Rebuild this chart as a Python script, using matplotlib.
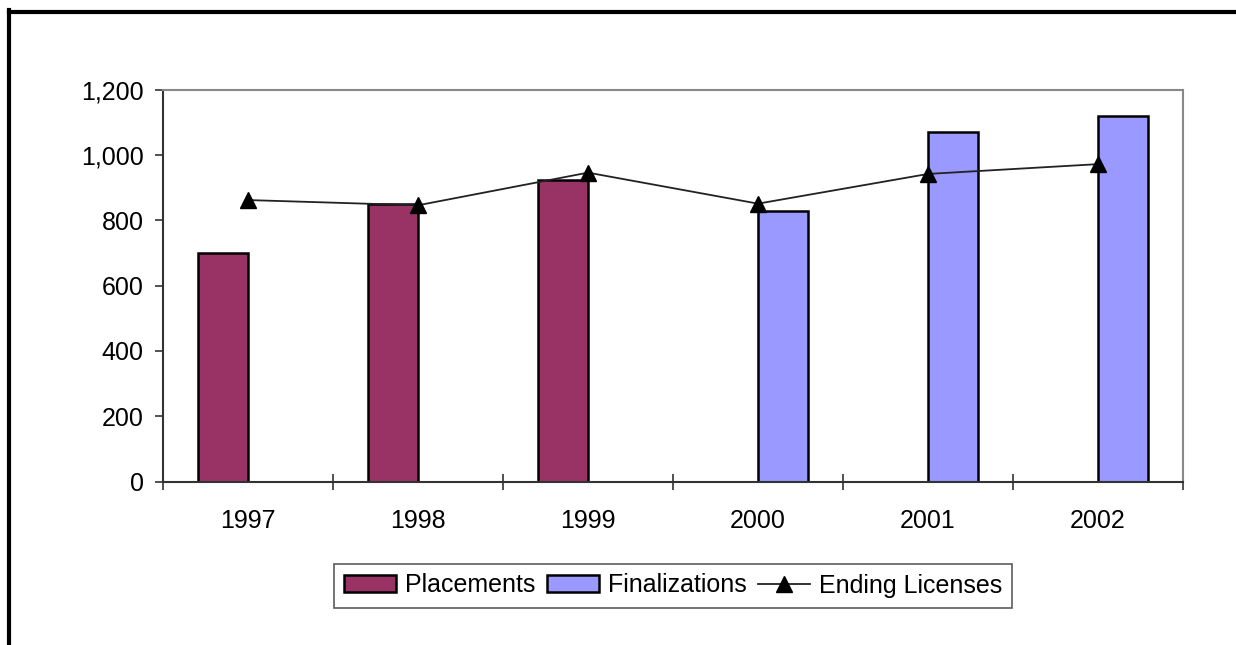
import matplotlib
matplotlib.use("Agg")
import matplotlib.pyplot as plt
from matplotlib.lines import Line2D
import numpy as np

years = ["1997", "1998", "1999", "2000", "2001", "2002"]
placements = [700, 850, 922, np.nan, np.nan, np.nan]
finalizations = [np.nan, np.nan, np.nan, 830, 1070, 1118]
ending_licenses = [862, 846, 946, 851, 942, 972]
y_ticks = [0, 200, 400, 600, 800, 1000, 1200]

plt.rcParams['font.family'] = ['Liberation Sans', 'DejaVu Sans']

W, H = 1236, 645
fig = plt.figure(figsize=(W / 100, H / 100), dpi=100)
ax = fig.add_axes([163 / W, 1 - 481.5 / H, (1183 - 163) / W, (481.5 - 89.7) / H])

x = np.arange(len(years))
bw = 50 / 170
b1 = ax.bar(x - bw / 2, placements, width=bw, color="#993366", edgecolor="black",
            linewidth=1.8, label="Placements", zorder=2)
b2 = ax.bar(x + bw / 2, finalizations, width=bw, color="#9999FF", edgecolor="black",
            linewidth=1.8, label="Finalizations", zorder=2)
l1, = ax.plot(x, ending_licenses, color="#222222", linewidth=1.3, marker="^",
              markersize=11, markerfacecolor="black", markeredgecolor="black",
              label="Ending Licenses", zorder=3)

ax.set_xlim(-0.5, len(years) - 0.5)
ax.set_ylim(0, 1200)
ax.set_yticks(y_ticks)
ax.set_yticklabels([f"{v:,}" for v in y_ticks])
ax.set_xticks(x)
ax.set_xticklabels(years)
ax.set_xticks(np.arange(len(years) + 1) - 0.5, minor=True)

ax.tick_params(axis="y", direction="out", length=6, width=1.2, color="#333333",
               labelsize=18, pad=8)
ax.tick_params(axis="x", which="major", length=0, labelsize=18, pad=20)
ax.tick_params(axis="x", which="minor", direction="inout", length=12, width=1.2,
               color="#333333")

for s in ["left", "bottom"]:
    ax.spines[s].set_color("#333333")
    ax.spines[s].set_linewidth(1.5)
for s in ["top", "right"]:
    ax.spines[s].set_color("#888888")
    ax.spines[s].set_linewidth(1.5)

leg = ax.legend(handles=[b1, b2, l1], loc="center",
                bbox_to_anchor=(0.5, (481.5 - 585.5) / (481.5 - 89.7)),
                ncol=3, fontsize=18, frameon=True, fancybox=False, shadow=False,
                handlelength=2.1, handleheight=0.65, handletextpad=0.35,
                columnspacing=0.45, borderpad=0.4, borderaxespad=0)
leg.get_frame().set_edgecolor("#333333")
leg.get_frame().set_linewidth(1.2)

fig.add_artist(Line2D([9 / W, 1], [1 - 12 / H, 1 - 12 / H], color="black",
                      linewidth=3, transform=fig.transFigure))
fig.add_artist(Line2D([9 / W, 9 / W], [0, 1 - 10 / H], color="black",
                      linewidth=3, transform=fig.transFigure))

fig.savefig("out.png", dpi=100)
